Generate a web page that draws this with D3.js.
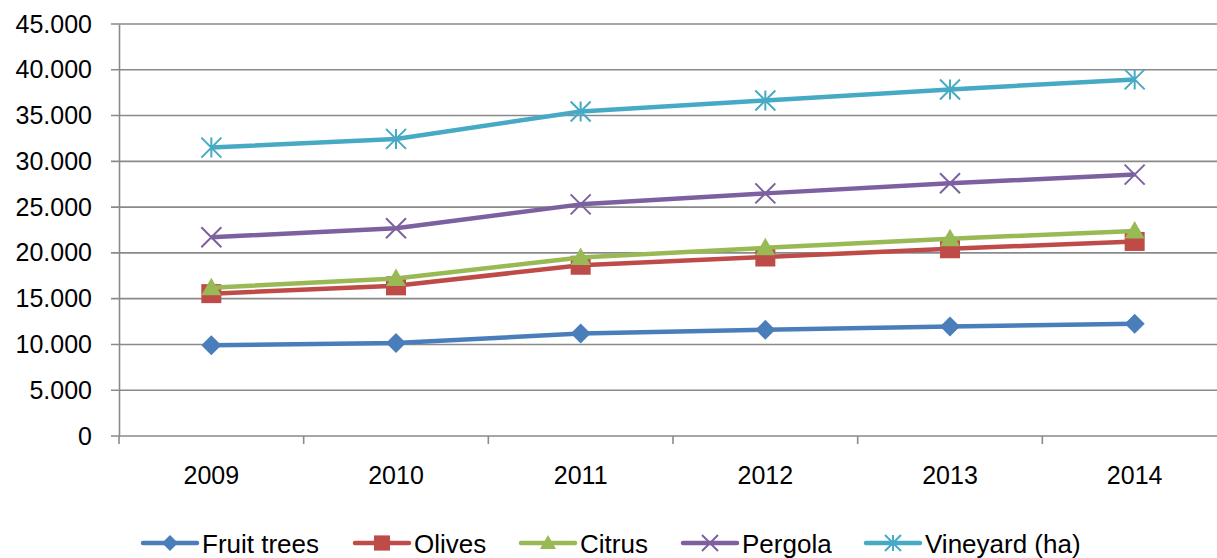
<!DOCTYPE html>
<html><head><meta charset="utf-8">
<script src="https://cdn.jsdelivr.net/npm/d3@7"></script>
<style>body{margin:0;background:#fff}svg{display:block}text{font-family:"Liberation Sans",Arial,sans-serif;fill:#000}</style>
</head><body><svg id="c" width="1217" height="558"></svg>
<script>
const years = ["2009","2010","2011","2012","2013","2014"];
const fruitTrees = [9900, 10150, 11200, 11600, 11950, 12250];
const olives = [15550, 16400, 18650, 19550, 20450, 21250];
const citrus = [16200, 17200, 19500, 20550, 21550, 22400];
const pergola = [21700, 22700, 25300, 26500, 27600, 28550];
const vineyard = [31500, 32450, 35450, 36650, 37850, 38950];
const seriesNames = ["Fruit trees","Olives","Citrus","Pergola","Vineyard (ha)"];
const seriesColors = ["#4A7EBB","#BE4B48","#98B954","#7D60A0","#46AAC5"];
const seriesShapes = ["diamond","square","triangle","x","asterisk"];
const yTicks = [0,5000,10000,15000,20000,25000,30000,35000,40000,45000];
const allSeries = [fruitTrees, olives, citrus, pergola, vineyard];

const svg = d3.select("#c");
const pLeft = 119, pRight = 1227, pTop = 24, pBottom = 436;
const x = d3.scaleBand().domain(years).range([pLeft, pRight]);
const y = d3.scaleLinear().domain([0,45000]).range([pBottom, pTop]);
const fmt = v => d3.format(",")(v).replace(/,/g, ".");
const FONT = "Liberation Sans, Arial, sans-serif";

// gridlines
svg.append("g").selectAll("line").data(yTicks).join("line")
  .attr("x1", pLeft-8).attr("x2", 1217).attr("y1", d=>y(d)).attr("y2", d=>y(d))
  .attr("stroke", "#8a8a8a").attr("stroke-width", 1.6);

// y axis
const ya = svg.append("g").attr("transform", `translate(${pLeft},0)`)
  .call(d3.axisLeft(y).tickValues(yTicks).tickSize(0).tickPadding(27).tickFormat(fmt));
ya.select(".domain").attr("stroke","#8a8a8a").attr("stroke-width",1.6);
ya.selectAll("text").style("font-size","25px").style("font-family",FONT).attr("fill","#000");

// x axis
const xa = svg.append("g").attr("transform", `translate(0,${pBottom})`)
  .call(d3.axisBottom(x).tickSize(0).tickPadding(30));
xa.select(".domain").remove();
xa.selectAll("text").style("font-size","25px").style("font-family",FONT).attr("fill","#000");
const bounds = years.map(d=>x(d)).concat([pRight]);
svg.append("g").selectAll("line").data(bounds).join("line")
  .attr("x1", d=>d).attr("x2", d=>d).attr("y1", pBottom).attr("y2", pBottom+8)
  .attr("stroke","#8a8a8a").attr("stroke-width",1.6);

function marker(g, shape, color, cx, cy, s) {
  if (shape === "diamond") {
    g.append("path").attr("d", `M${cx},${cy-s}L${cx+s},${cy}L${cx},${cy+s}L${cx-s},${cy}Z`).attr("fill", color);
  } else if (shape === "square") {
    g.append("rect").attr("x", cx-s).attr("y", cy-s*0.95).attr("width", s*2).attr("height", s*1.9).attr("fill", color);
  } else if (shape === "triangle") {
    g.append("path").attr("d", `M${cx},${cy-s}L${cx+s},${cy+s*0.75}L${cx-s},${cy+s*0.75}Z`).attr("fill", color);
  } else if (shape === "x") {
    g.append("path").attr("d", `M${cx-s},${cy-s}L${cx+s},${cy+s}M${cx-s},${cy+s}L${cx+s},${cy-s}`).attr("stroke", color).attr("stroke-width", 2);
  } else if (shape === "asterisk") {
    g.append("path").attr("d", `M${cx-s},${cy-s}L${cx+s},${cy+s}M${cx-s},${cy+s}L${cx+s},${cy-s}M${cx},${cy-s}L${cx},${cy+s}`).attr("stroke", color).attr("stroke-width", 2);
  }
}

const line = d3.line().x((d,i)=>x(years[i])+x.bandwidth()/2).y(d=>y(d));
allSeries.forEach((vals, si) => {
  const g = svg.append("g");
  g.append("path").datum(vals).attr("d", line).attr("fill","none")
    .attr("stroke", seriesColors[si]).attr("stroke-width", 4.5).attr("stroke-linejoin","round");
  vals.forEach((v,i) => marker(g, seriesShapes[si], seriesColors[si], x(years[i])+x.bandwidth()/2, y(v), 10));
});

// legend
const legX = [143, 355, 521, 683, 866];
const legY = 543;
seriesNames.forEach((n, i) => {
  const g = svg.append("g");
  const x0 = legX[i], x1 = x0 + 54;
  g.append("line").attr("x1", x0).attr("x2", x1).attr("y1", legY).attr("y2", legY)
    .attr("stroke", seriesColors[i]).attr("stroke-width", 4.5).attr("stroke-linecap","round");
  marker(g, seriesShapes[i], seriesColors[i], (x0+x1)/2, legY, 8);
  g.append("text").attr("x", x1+5).attr("y", 553).style("font-size","26px").style("font-family",FONT).text(n);
});
</script></body></html>
